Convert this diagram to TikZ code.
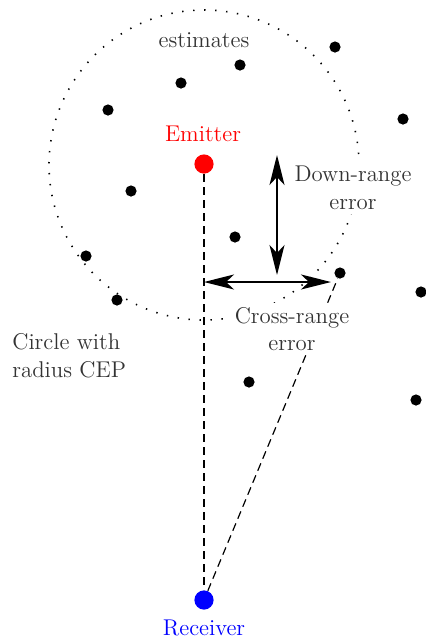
\documentclass[tikz,border=0pt]{standalone}
\usetikzlibrary{arrows.meta}
\begin{document}
\begin{tikzpicture}[x=0.5pt,y=-0.5pt,
  txt/.style={text=black!80,font=\fontsize{11.4}{13.8}\selectfont},
  lbl/.style={txt,align=center,fill=white,inner sep=2pt},
  est/.style={circle,fill=black,inner sep=0pt,minimum size=5.6pt},
  bigdot/.style={circle,inner sep=0pt,minimum size=9.6pt},
  dotcirc/.style={line width=0.8pt,dash pattern=on 0.7pt off 4.8pt},
  dashline/.style={line width=0.6pt,dash pattern=on 4pt off 2.5pt},
  dbl/.style={line width=0.9pt,{Stealth[length=15pt,width=7.5pt,inset=4pt]}-{Stealth[length=15pt,width=7.5pt,inset=4pt]}}]
\useasboundingbox (0,0) rectangle (425,639);
% CEP circle
\node[draw,dotcirc,circle,minimum size=155pt,inner sep=0pt] (cep) at (204,165) {};
% estimates
\node[est] (d1) at (335,47) {};
\node[est] (d2) at (240,65) {};
\node[est] (d3) at (181,83) {};
\node[est] (d4) at (108,110) {};
\node[est] (d5) at (403,119) {};
\node[est] (d6) at (131,191) {};
\node[est] (d7) at (235,237) {};
\node[est] (d8) at (86,256) {};
\node[est] (d9) at (340,273) {};
\node[est] (d10) at (421,292) {};
\node[est] (d11) at (117,300) {};
\node[est] (d12) at (249,382) {};
\node[est] (d13) at (416,400) {};
% emitter and receiver
\node[bigdot,fill=red] (em) at (204,164) {};
\node[bigdot,fill=blue] (rx) at (204,600) {};
\node[txt,text=red] (emlbl) at (203,134) {Emitter};
\node[txt,text=blue] (rxlbl) at (204,628) {Receiver};
% dashed lines
\draw[dashline] (em) -- (rx);
\draw[dashline] (rx) -- (d9);
% labels
\node[txt] (estlbl) at (204,40) {estimates};
\node[lbl] (down) at (353,188) {Down-range\\error};
\node[lbl] (cross) at (292,329) {Cross-range\\error};
\node[txt,align=left,anchor=west,inner sep=0pt] (ceplbl) at (12,356) {Circle with\\radius CEP};
% error arrows
\coordinate (v1) at (277,155);
\coordinate (v2) at (277,275);
\coordinate (h1) at (204,282);
\coordinate (h2) at (331,282);
\draw[dbl] (v1) -- (v2);
\draw[dbl] (h1) -- (h2);
\end{tikzpicture}
\end{document}
